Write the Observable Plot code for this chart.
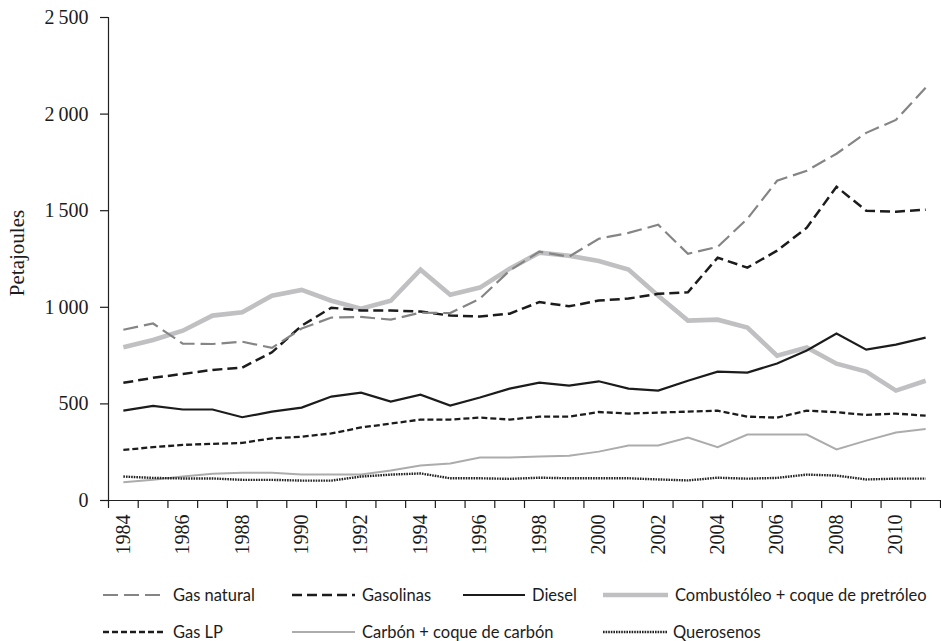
<!DOCTYPE html>
<html>
<head>
<meta charset="utf-8">
<script src="https://cdn.jsdelivr.net/npm/d3@7"></script>
<script src="https://cdn.jsdelivr.net/npm/@observablehq/plot@0.6"></script>
<style>
  html, body { margin: 0; padding: 0; background: #fff; }
  #chart svg, #legend svg { display: block; }
</style>
</head>
<body>
<div id="chart"></div>
<div id="legend"></div>
<script>
// ---- Data ----
const years = [1984, 1985, 1986, 1987, 1988, 1989, 1990, 1991, 1992, 1993, 1994, 1995, 1996, 1997,
               1998, 1999, 2000, 2001, 2002, 2003, 2004, 2005, 2006, 2007, 2008, 2009, 2010, 2011];
const gasNatural  = [884, 916, 812, 810, 822, 790, 890, 947, 950, 936, 972, 970, 1045, 1190,
                     1288, 1262, 1355, 1385, 1427, 1277, 1313, 1458, 1655, 1707, 1795, 1903, 1970, 2136];
const gasolinas   = [609, 635, 655, 676, 688, 767, 905, 998, 983, 983, 978, 957, 952, 967,
                     1027, 1005, 1035, 1045, 1070, 1078, 1257, 1205, 1293, 1412, 1624, 1500, 1495, 1505];
const diesel      = [465, 490, 471, 471, 431, 460, 481, 538, 558, 512, 548, 491, 533, 579,
                     610, 595, 617, 579, 569, 620, 667, 662, 709, 776, 864, 781, 807, 843];
const combustoleo = [793, 831, 879, 957, 974, 1060, 1090, 1034, 993, 1034, 1195, 1065, 1102, 1200,
                     1283, 1267, 1240, 1195, 1060, 931, 936, 895, 750, 792, 708, 667, 569, 620];
const gasLP       = [262, 276, 288, 293, 298, 322, 330, 347, 378, 398, 419, 419, 429, 419,
                     434, 434, 458, 450, 455, 460, 465, 434, 429, 465, 457, 443, 450, 439];
const carbon      = [95, 107, 124, 138, 143, 143, 134, 134, 134, 155, 181, 191, 222, 222,
                     228, 232, 253, 285, 285, 326, 276, 341, 341, 341, 264, 310, 352, 370];
const querosenos  = [124, 117, 114, 114, 107, 107, 103, 103, 124, 134, 140, 115, 115, 112,
                     118, 115, 115, 115, 109, 104, 118, 113, 117, 134, 129, 109, 113, 113];

const seriesNames = ["Gas natural", "Gasolinas", "Diesel", "Combustóleo + coque de pretróleo",
                     "Gas LP", "Carbón + coque de carbón", "Querosenos"];
const yTicks = [0, 500, 1000, 1500, 2000, 2500];
const yTickLabels = ["0", "500", "1\u2009000", "1\u2009500", "2\u2009000", "2\u2009500"];
const xLabelYears = [1984, 1986, 1988, 1990, 1992, 1994, 1996, 1998, 2000, 2002, 2004, 2006, 2008, 2010];
const yAxisTitle = "Petajoules";

// ---- Styles (kept apart from data) ----
const styles = {
  "Gas natural": {stroke: "#858585", strokeWidth: 2.2, dash: "15,6"},
  "Gasolinas": {stroke: "#1c1c1c", strokeWidth: 2.5, dash: "10,5"},
  "Diesel": {stroke: "#1c1c1c", strokeWidth: 2.2, dash: null},
  "Combustóleo + coque de pretróleo": {stroke: "#c0c0c2", strokeWidth: 4.6, dash: null},
  "Gas LP": {stroke: "#1c1c1c", strokeWidth: 2.3, dash: "6,3"},
  "Carbón + coque de carbón": {stroke: "#acacac", strokeWidth: 2, dash: null},
  "Querosenos": {stroke: "#222", strokeWidth: 2.4, dash: "1.6,1"}
};
const valuesByName = {
  "Gas natural": gasNatural, "Gasolinas": gasolinas, "Diesel": diesel,
  "Combustóleo + coque de pretróleo": combustoleo, "Gas LP": gasLP,
  "Carbón + coque de carbón": carbon, "Querosenos": querosenos
};
const drawOrder = ["Combustóleo + coque de pretróleo", "Carbón + coque de carbón", "Querosenos",
                   "Gas LP", "Diesel", "Gasolinas", "Gas natural"];

const yLabelMap = new Map(yTicks.map((t, i) => [t, yTickLabels[i]]));
const tickEdges = years.map(y => y - 0.5).concat([years[years.length - 1] + 0.5]);

const lineMarks = drawOrder.map(name => {
  const s = styles[name];
  const rows = years.map((yr, i) => ({year: yr, value: valuesByName[name][i]}));
  return Plot.line(rows, {
    x: "year", y: "value", stroke: s.stroke, strokeWidth: s.strokeWidth,
    strokeDasharray: s.dash || undefined, strokeLinecap: "butt", strokeLinejoin: "miter", strokeMiterlimit: 4
  });
});

const chart = Plot.plot({
  width: 941, height: 575,
  marginLeft: 108, marginRight: 1, marginTop: 17, marginBottom: 75,
  style: {fontFamily: "'Liberation Serif', serif", fontSize: "20px", color: "#1c1c1c", background: "#fff"},
  x: {domain: [tickEdges[0], tickEdges[tickEdges.length - 1]]},
  y: {domain: [0, 2500]},
  marks: [
    ...lineMarks,
    Plot.ruleY([0], {stroke: "#222", strokeWidth: 1.2}),
    Plot.ruleX([tickEdges[0]], {stroke: "#222", strokeWidth: 1.2}),
    Plot.axisY({ticks: yTicks, tickFormat: d => yLabelMap.get(d), tickSize: 8, tickPadding: 12,
                label: null, fontSize: 20, strokeWidth: 1.2}),
    Plot.axisX({ticks: tickEdges, tickSize: 8, tickFormat: () => "", label: null, strokeWidth: 1.2}),
    Plot.axisX({ticks: xLabelYears, tickSize: 0, tickRotate: -90, tickPadding: 14, tickFormat: d => String(d),
                label: null, fontSize: 20}),
    Plot.text([yAxisTitle], {frameAnchor: "left", textAnchor: "middle", rotate: -90, dx: -91, dy: -6,
                             fontSize: 21, fill: "#1c1c1c"})
  ]
});
document.getElementById("chart").appendChild(chart);

// ---- Legend (below the chart) ----
const legendLayout = [
  {name: "Gas natural", row: 0, x0: 103, x1: 166, tx: 173},
  {name: "Gasolinas", row: 0, x0: 292, x1: 355, tx: 362},
  {name: "Diesel", row: 0, x0: 463, x1: 525, tx: 532},
  {name: "Combustóleo + coque de pretróleo", row: 0, x0: 603, x1: 668, tx: 675},
  {name: "Gas LP", row: 1, x0: 103, x1: 165, tx: 173},
  {name: "Carbón + coque de carbón", row: 1, x0: 292, x1: 355, tx: 362},
  {name: "Querosenos", row: 1, x0: 603, x1: 667, tx: 673}
];
const rowY = [20, 57];
const legend = d3.select("#legend").append("svg").attr("width", 941).attr("height", 66);
legendLayout.forEach(item => {
  const s = styles[item.name];
  legend.append("line")
    .attr("x1", item.x0).attr("x2", item.x1)
    .attr("y1", rowY[item.row]).attr("y2", rowY[item.row])
    .attr("stroke", s.stroke).attr("stroke-width", s.strokeWidth)
    .attr("stroke-dasharray", s.dash).attr("stroke-linecap", "butt");
  legend.append("text")
    .attr("x", item.tx).attr("y", rowY[item.row])
    .attr("dy", "0.35em")
    .attr("font-family", "Lato, 'Open Sans', sans-serif")
    .attr("font-size", 16.5)
    .attr("fill", "#1c1c1c")
    .text(item.name);
});
</script>
</body>
</html>
